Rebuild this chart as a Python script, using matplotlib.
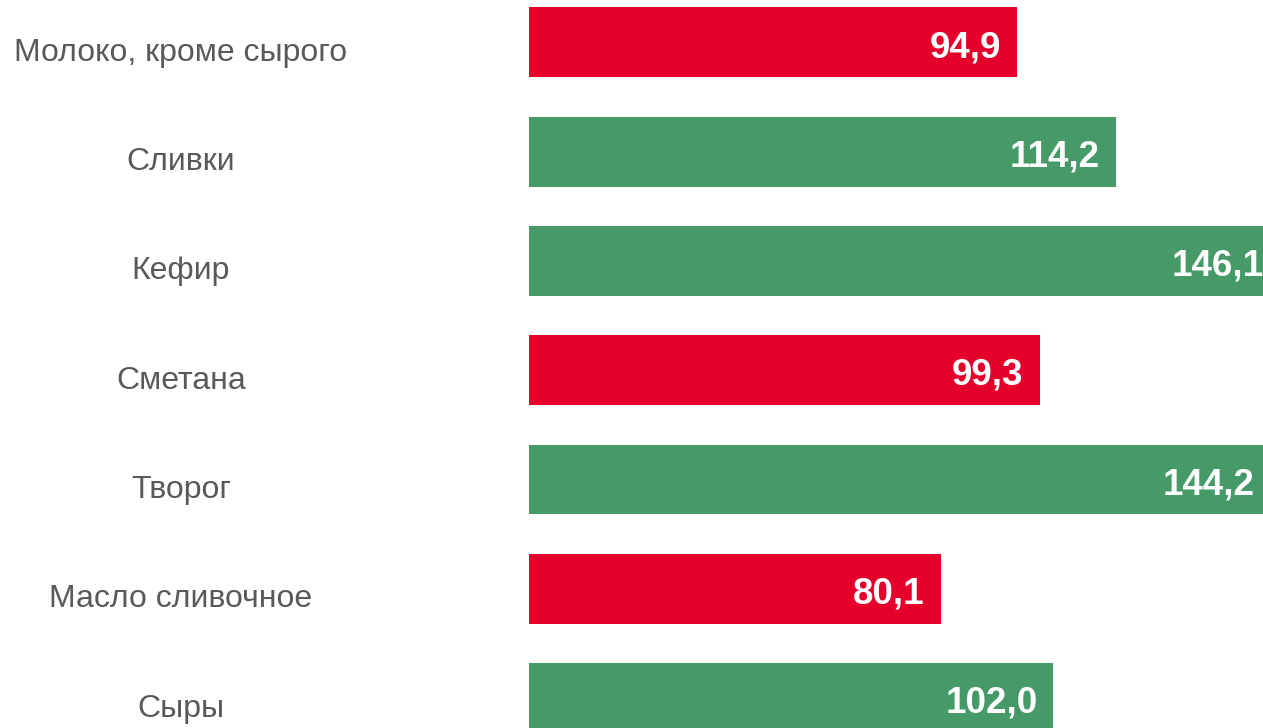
import matplotlib.pyplot as plt
import matplotlib.transforms as mtransforms

# Data
categories = ["Молоко, кроме сырого", "Сливки", "Кефир", "Сметана",
              "Творог", "Масло сливочное", "Сыры"]
values = [94.9, 114.2, 146.1, 99.3, 144.2, 80.1, 102.0]

red = "#E4002B"
green = "#459A68"
colors = [red if v < 100 else green for v in values]

plt.rcParams["font.family"] = ["Liberation Sans", "DejaVu Sans"]

fig = plt.figure(figsize=(12.63, 7.28), dpi=100)
# axes run past the figure edge on the right and bottom, like the original crop
ax = fig.add_axes([529 / 1263, -0.034, 0.6106, 1.051])

pos = list(range(len(categories)))
ax.barh(pos, values, height=0.64, color=colors)
ax.set_xlim(0, 150)
ax.set_ylim(6.5, -0.5)
ax.axis("off")

# category labels, centered in the left margin
trans = mtransforms.blended_transform_factory(fig.transFigure, ax.transData)
for i, name in enumerate(categories):
    ax.text(181 / 1263, i + 0.17, name, transform=trans, ha="center",
            va="baseline", fontsize=23, color="#595959")

# value labels inside the bars
for i, v in enumerate(values):
    ax.annotate(f"{v:.1f}".replace(".", ","), xy=(v, i + 0.135),
                xytext=(-16, 0), textcoords="offset pixels",
                ha="right", va="baseline", fontsize=26.5,
                fontweight="bold", color="white", annotation_clip=False)

plt.savefig("out.png", dpi=100)
